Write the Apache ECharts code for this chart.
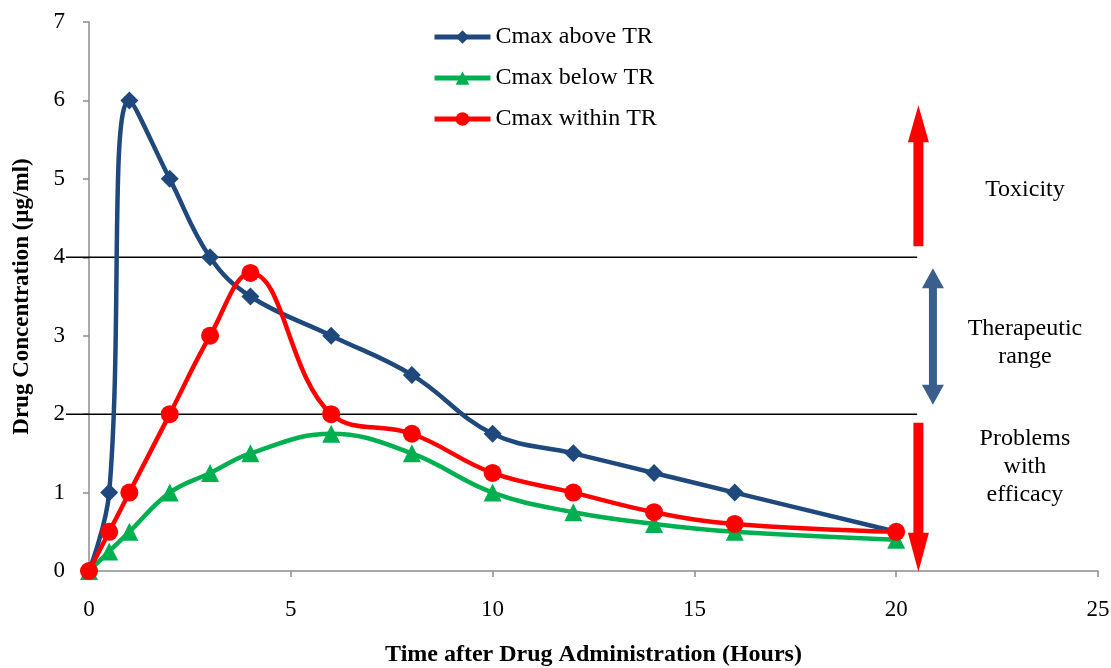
<!DOCTYPE html>
<html>
<head>
<meta charset="utf-8">
<script src="https://cdn.jsdelivr.net/npm/echarts@6/dist/echarts.min.js"></script>
<style>
  html, body { margin: 0; padding: 0; background: #fff; }
  #chart { width: 1111px; height: 668px; }
</style>
</head>
<body>
<div id="chart"></div>
<script>
// Sampling times (hours) and concentrations (µg/ml) for the three profiles
const hours = [0, 0.5, 1, 2, 3, 4, 6, 8, 10, 12, 14, 16, 20];
const cmaxAbove = [0, 1, 6, 5, 4, 3.5, 3, 2.5, 1.75, 1.5, 1.25, 1, 0.5];
const cmaxBelow = [0, 0.25, 0.5, 1, 1.25, 1.5, 1.75, 1.5, 1, 0.75, 0.6, 0.5, 0.4];
const cmaxWithin = [0, 0.5, 1, 2, 3, 3.8, 2, 1.75, 1.25, 1, 0.75, 0.6, 0.5];

// Therapeutic range bounds
const rangeLow = 2;
const rangeHigh = 4;

const xTicks = [0, 5, 10, 15, 20, 25];
const yTicks = [0, 1, 2, 3, 4, 5, 6, 7];

const FONT = '"Liberation Serif", "Times New Roman", serif';
const AXIS_GRAY = '#8c8c8c';

function pairs(xs, ys) { return xs.map((x, i) => [x, ys[i]]); }

const chart = echarts.init(document.getElementById('chart'));

function profile(name, values, symbol, size, color) {
  return {
    name: name,
    type: 'line',
    data: pairs(hours, values),
    smooth: 0.4,
    symbol: symbol,
    symbolSize: size,
    color: color,
    itemStyle: { color: color },
    lineStyle: { width: 4.5, color: color },
    emphasis: { disabled: true },
    z: 5
  };
}

chart.setOption({
  animation: false,
  grid: { left: 89, right: 13, top: 22, bottom: 97, outerBoundsMode: 'none' },
  legend: {
    orient: 'vertical',
    left: 427,
    top: 19,
    itemWidth: 56,
    itemHeight: 17,
    itemGap: 15,
    lineStyle: { width: 5 },
    textStyle: { fontFamily: FONT, fontSize: 24, lineHeight: 26, color: '#000' },
    data: ['Cmax above TR', 'Cmax below TR', 'Cmax within TR']
  },
  xAxis: {
    type: 'value',
    min: xTicks[0],
    max: xTicks[xTicks.length - 1],
    interval: 5,
    name: 'Time after Drug Administration (Hours)',
    nameLocation: 'middle',
    nameGap: 72,
    nameTextStyle: { fontFamily: FONT, fontSize: 24, fontWeight: 'bold', color: '#000' },
    axisLine: { lineStyle: { color: AXIS_GRAY, width: 1.5 } },
    axisTick: { show: true, length: 6, lineStyle: { color: AXIS_GRAY, width: 1.5 } },
    axisLabel: { fontFamily: FONT, fontSize: 23, color: '#000', margin: 27 },
    splitLine: { show: false }
  },
  yAxis: {
    type: 'value',
    min: yTicks[0],
    max: yTicks[yTicks.length - 1],
    interval: 1,
    name: 'Drug Concentration (µg/ml)',
    nameLocation: 'middle',
    nameGap: 55,
    nameTextStyle: { fontFamily: FONT, fontSize: 23, fontWeight: 'bold', color: '#000' },
    axisLine: { show: true, lineStyle: { color: AXIS_GRAY, width: 1.5 } },
    axisTick: { show: true, length: 6, lineStyle: { color: AXIS_GRAY, width: 1.5 } },
    axisLabel: { fontFamily: FONT, fontSize: 23, color: '#000', margin: 24 },
    splitLine: { show: false }
  },
  series: [
    profile('Cmax above TR', cmaxAbove, 'diamond', 18, '#1f497d'),
    profile('Cmax below TR', cmaxBelow, 'triangle', 18, '#00b050'),
    profile('Cmax within TR', cmaxWithin, 'circle', 18, '#ff0000')
  ]
});

// Range bounds, arrows and zone captions, positioned through the axis scales
function px(x, y) { return chart.convertToPixel({ gridIndex: 0 }, [x, y]); }

function upArrow(cx, yTop, yBottom, color, shaftW, headW, headH) {
  return {
    type: 'polygon',
    shape: { points: [
      [cx, yTop], [cx + headW / 2, yTop + headH], [cx + shaftW / 2, yTop + headH],
      [cx + shaftW / 2, yBottom], [cx - shaftW / 2, yBottom],
      [cx - shaftW / 2, yTop + headH], [cx - headW / 2, yTop + headH]
    ] },
    style: { fill: color },
    z: 10
  };
}
function downArrow(cx, yTop, yBottom, color, shaftW, headW, headH) {
  return {
    type: 'polygon',
    shape: { points: [
      [cx, yBottom], [cx + headW / 2, yBottom - headH], [cx + shaftW / 2, yBottom - headH],
      [cx + shaftW / 2, yTop], [cx - shaftW / 2, yTop],
      [cx - shaftW / 2, yBottom - headH], [cx - headW / 2, yBottom - headH]
    ] },
    style: { fill: color },
    z: 10
  };
}
function doubleArrow(cx, yTop, yBottom, color, shaftW, headW, headH) {
  return {
    type: 'polygon',
    shape: { points: [
      [cx, yTop], [cx + headW / 2, yTop + headH], [cx + shaftW / 2, yTop + headH],
      [cx + shaftW / 2, yBottom - headH], [cx + headW / 2, yBottom - headH],
      [cx, yBottom], [cx - headW / 2, yBottom - headH], [cx - shaftW / 2, yBottom - headH],
      [cx - shaftW / 2, yTop + headH], [cx - headW / 2, yTop + headH]
    ] },
    style: { fill: color },
    z: 10
  };
}

const hiL = px(-0.57, rangeHigh), hiR = px(20.52, rangeHigh);
const loL = px(-0.57, rangeLow), loR = px(20.52, rangeLow);
const arrowX = px(20.55, 0)[0];
const rangeArrowX = px(20.91, 0)[0];
const captionX = px(23.19, 0)[0];

const textStyle = { fontFamily: FONT, fontSize: 24, fill: '#000', align: 'center', verticalAlign: 'middle', lineHeight: 28 };

chart.setOption({
  graphic: [
    { type: 'line', shape: { x1: hiL[0], y1: hiL[1], x2: hiR[0], y2: hiR[1] }, style: { stroke: '#000', lineWidth: 1.5 }, z: 1 },
    { type: 'line', shape: { x1: loL[0], y1: loL[1], x2: loR[0], y2: loR[1] }, style: { stroke: '#000', lineWidth: 1.5 }, z: 1 },
    upArrow(arrowX, px(0, 5.94)[1], px(0, 4.14)[1], '#ff0000', 10, 21, 37),
    doubleArrow(rangeArrowX, px(0, 3.86)[1], px(0, 2.12)[1], '#3a5f8c', 8, 22, 20),
    downArrow(arrowX, px(0, 1.89)[1], px(0, -0.01)[1], '#ff0000', 10, 21, 39),
    { type: 'text', x: captionX, y: px(0, 4.86)[1], style: Object.assign({ text: 'Toxicity' }, textStyle), z: 10 },
    { type: 'text', x: captionX, y: px(0, 2.91)[1], style: Object.assign({ text: 'Therapeutic\nrange' }, textStyle), z: 10 },
    { type: 'text', x: captionX, y: px(0, 1.33)[1], style: Object.assign({ text: 'Problems\nwith\nefficacy' }, textStyle), z: 10 }
  ]
});
</script>
</body>
</html>
